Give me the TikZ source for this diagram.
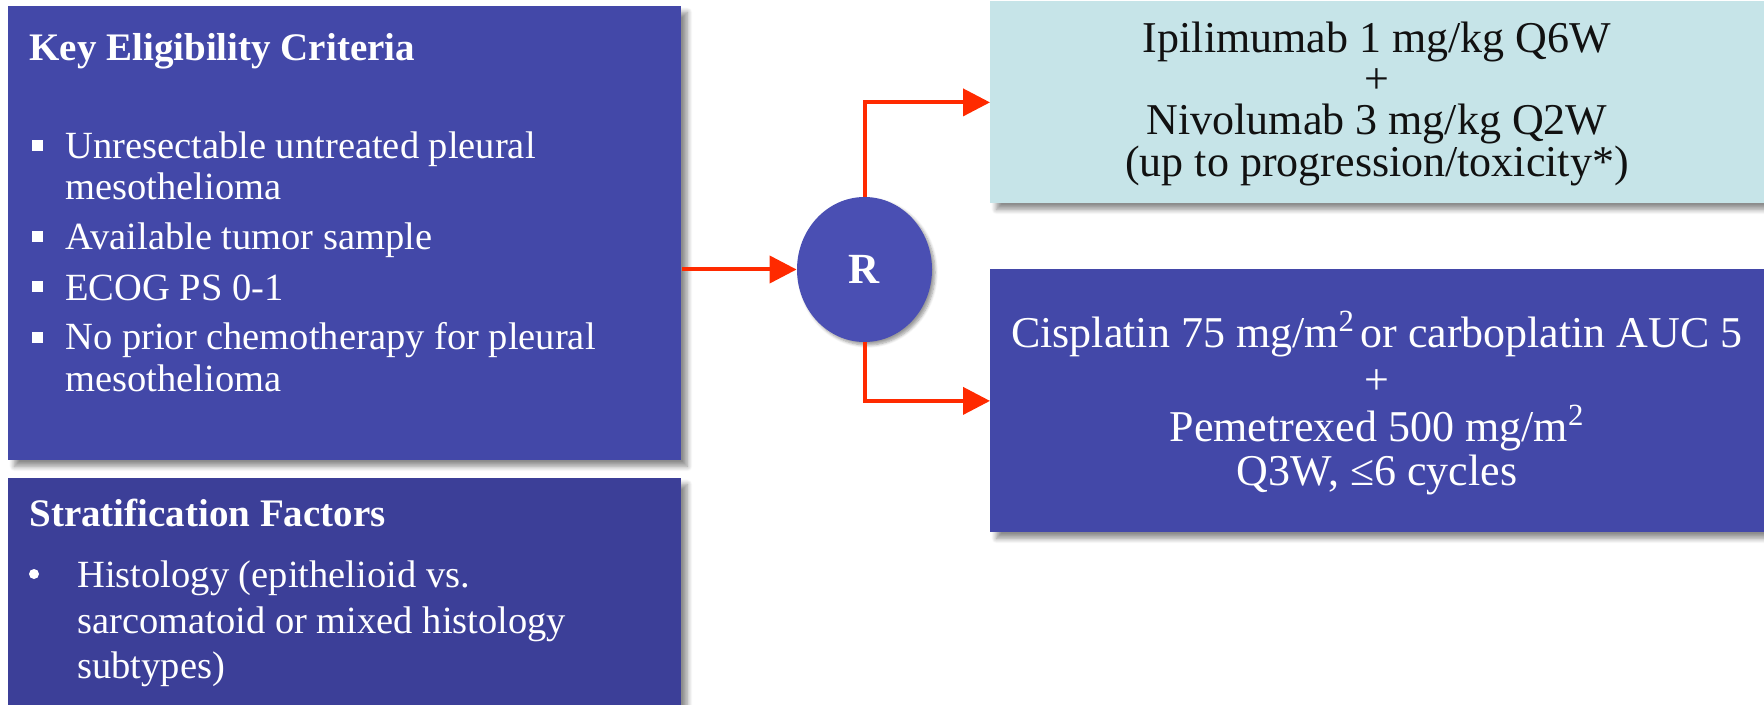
\documentclass[tikz,border=0pt]{standalone}
\usepackage{fontspec}
\setmainfont{Liberation Serif}
\usetikzlibrary{arrows.meta,shadows.blur,shapes.geometric}

\definecolor{boxblue}{HTML}{4348A8}
\definecolor{stratblue}{HTML}{3C3F98}
\definecolor{randblue}{HTML}{4A4FB3}
\definecolor{armcyan}{HTML}{C6E4E8}
\definecolor{flowred}{HTML}{FF2A00}
\definecolor{inkdark}{HTML}{111111}

\tikzset{
  panel/.style={rectangle, inner sep=0pt, anchor=north west,
    blur shadow={shadow xshift=3pt, shadow yshift=-3pt,
                 shadow blur radius=2.5pt, shadow blur steps=8, shadow opacity=45}},
  leftline/.style={anchor=base west, inner sep=0pt, text=white,
    font=\fontsize{19.25pt}{20.5pt}\selectfont},
  lefthead/.style={leftline, font=\fontsize{19.5pt}{20.5pt}\selectfont\bfseries},
  armline/.style={anchor=base, inner sep=0pt,
    font=\fontsize{22pt}{24pt}\selectfont},
  sqbullet/.style={rectangle, fill=white, inner sep=0pt, minimum size=5.5pt},
  dotbullet/.style={circle, fill=white, inner sep=0pt, minimum size=5pt},
  flow/.style={draw=flowred, line width=2pt,
    -{Triangle[length=13.5pt, width=13.5pt]}},
}

\begin{document}
\begin{tikzpicture}[x=0.5pt, y=-0.5pt]
  \useasboundingbox (0,0) rectangle (1764,705);

  % panels
  \node[panel, fill=boxblue, minimum width=336.5pt, minimum height=227pt] (elig) at (8,6) {};
  \node[panel, fill=stratblue, minimum width=336.5pt, minimum height=120pt] (strat) at (8,478) {};
  \node[panel, fill=armcyan, minimum width=392.5pt, minimum height=101pt] (armA) at (990,1) {};
  \node[panel, fill=boxblue, minimum width=392.5pt, minimum height=131.5pt] (armB) at (990,269) {};

  % randomisation
  \node[ellipse, fill=randblue, inner sep=0pt, minimum width=67.5pt, minimum height=72.5pt,
        text=white, font=\fontsize{21.5pt}{24pt}\selectfont\bfseries,
        blur shadow={shadow xshift=1.5pt, shadow yshift=-1.5pt,
                     shadow blur radius=1.5pt, shadow blur steps=6, shadow opacity=40}]
        (rand) at (864.5,269.5) {R};

  % eligibility criteria
  \node[lefthead] (eligTitle) at (29,61) {Key Eligibility Criteria};
  \node[sqbullet] (eb1) at (37.5,146) {};
  \node[leftline] (e1a) at (65,159) {Unresectable untreated pleural};
  \node[leftline] (e1b) at (65,200) {mesothelioma};
  \node[sqbullet] (eb2) at (37.5,237) {};
  \node[leftline] (e2) at (65,250) {Available tumor sample};
  \node[sqbullet] (eb3) at (37.5,287) {};
  \node[leftline] (e3) at (65,300) {ECOG PS 0-1};
  \node[sqbullet] (eb4) at (37.5,337) {};
  \node[leftline] (e4a) at (65,350) {No prior chemotherapy for pleural};
  \node[leftline] (e4b) at (65,391) {mesothelioma};

  % stratification factors
  \node[lefthead] (stratTitle) at (29,526) {Stratification Factors};
  \node[dotbullet] (sb1) at (34,574) {};
  \node[leftline] (s1a) at (77,587) {Histology (epithelioid vs.};
  \node[leftline] (s1b) at (77,633) {sarcomatoid or mixed histology};
  \node[leftline] (s1c) at (77,678) {subtypes)};

  % arm A
  \node[armline, text=inkdark] (a1) at (1377,53) {Ipilimumab 1 mg/kg Q6W};
  \node[armline, text=inkdark] (a2) at (1377,94) {+};
  \node[armline, text=inkdark] (a3) at (1377,135) {Nivolumab 3 mg/kg Q2W};
  \node[armline, text=inkdark] (a4) at (1377,177) {(up to progression/toxicity*)};

  % arm B
  \node[armline, text=white] (b1) at (1377,347) {Cisplatin 75 mg/m\textsuperscript{2}\hspace{0.12em}or carboplatin AUC 5};
  \node[armline, text=white] (b2) at (1377,394) {+};
  \node[armline, text=white] (b3) at (1377,441) {Pemetrexed 500 mg/m\textsuperscript{2}};
  \node[armline, text=white] (b4) at (1377,485) {Q3W, ≤6 cycles};

  % connectors
  \draw[flow] (rand.west -| elig.east) -- (rand.west);
  \draw[flow] (rand.north) |- (armA.west);
  \draw[flow] (rand.south) |- (armB.west);
\end{tikzpicture}
\end{document}
